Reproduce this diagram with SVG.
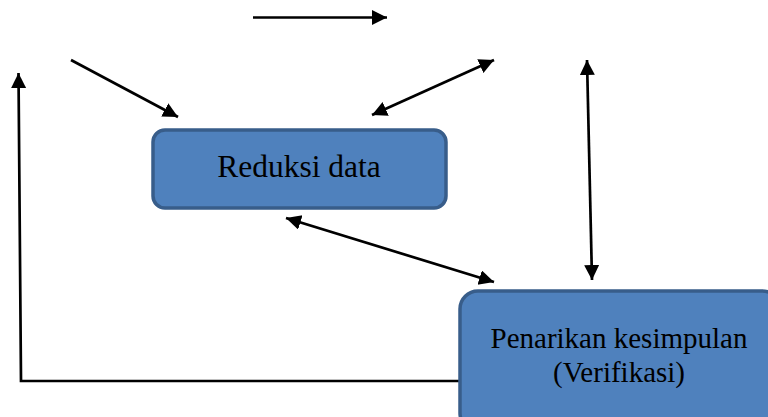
<svg xmlns="http://www.w3.org/2000/svg" width="768" height="417" viewBox="0 0 768 417">
<style>
.box{fill:#4f81bd;stroke:#385d8a;stroke-width:3.5}
.lbl{font-family:"Liberation Serif","Times New Roman",serif;font-size:29px;fill:#000;text-anchor:middle}
.c{stroke:#000;stroke-width:2.7;fill:none}
.a{marker-end:url(#ah)}
.b{marker-start:url(#ah);marker-end:url(#ah)}
</style>
<defs>
<marker id="ah" markerUnits="userSpaceOnUse" markerWidth="16" markerHeight="16" refX="15" refY="7.5" orient="auto-start-reverse" viewBox="0 0 16 16">
<path d="M0,0 L15,7.5 L0,15 z" fill="#000"/>
</marker>
</defs>
<rect width="768" height="417" fill="#fff"/>
<g id="connectors">
<line class="c a" x1="253" y1="17.5" x2="387" y2="17.5"/>
<line class="c a" x1="71" y1="60" x2="178" y2="117"/>
<polyline class="c a" points="460,381 21,381 18.5,73"/>
<line class="c b" x1="372" y1="115" x2="494" y2="60"/>
<line class="c b" x1="587" y1="60" x2="592" y2="280"/>
<line class="c b" x1="286" y1="218" x2="494" y2="282"/>
</g>
<g id="reduksi">
<rect class="box" x="153" y="130" width="293" height="78" rx="12"/>
<text class="lbl" x="299" y="177" style="font-size:31.5px">Reduksi data</text>
</g>
<g id="penarikan">
<rect class="box" x="460" y="291" width="320" height="140" rx="18"/>
<text class="lbl" x="619" y="348">Penarikan kesimpulan</text>
<text class="lbl" x="619" y="382">(Verifikasi)</text>
</g>
</svg>
